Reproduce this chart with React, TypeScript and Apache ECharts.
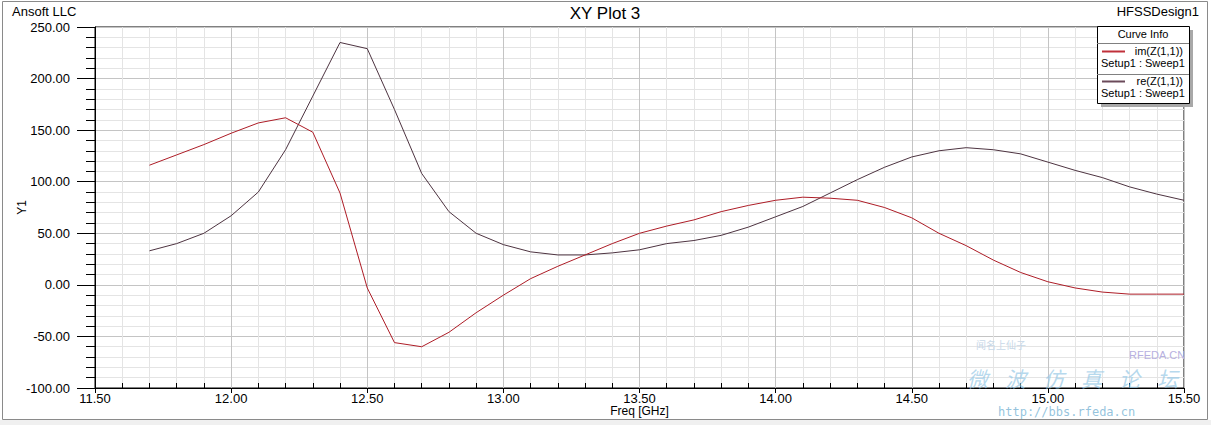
import React, { useEffect, useRef } from "react";
import * as echarts from "echarts";

const freqs = [11.7, 11.8, 11.9, 12.0, 12.1, 12.2, 12.3, 12.4, 12.5, 12.6, 12.7, 12.8, 12.9, 13.0, 13.1, 13.2, 13.3, 13.4, 13.5, 13.6, 13.7, 13.8, 13.9, 14.0, 14.1, 14.2, 14.3, 14.4, 14.5, 14.6, 14.7, 14.8, 14.9, 15.0, 15.1, 15.2, 15.3, 15.4, 15.5];
const imZ = [116, 126, 136, 147, 157, 162, 148, 89, -3, -56, -60, -46, -27, -10, 6, 18, 29, 40, 50, 57, 63, 71, 77, 82, 85, 84, 82, 75, 65, 50, 38, 24, 12, 3, -3, -7, -9, -9, -9];
const reZ = [33, 40, 50, 67, 90, 131, 183, 235, 229, 170, 108, 71, 50, 39, 32, 29, 29, 31, 34, 40, 43, 48, 56, 66, 76, 89, 102, 114, 124, 130, 133, 131, 127, 119, 111, 104, 95, 88, 82];
const seriesNames = ["im(Z(1,1))", "re(Z(1,1))"];
const seriesColors = ["#ad1c26", "#4d3340"];
const sweepLabel = "Setup1 : Sweep1";

const FONT = "Liberation Sans, Arial, sans-serif";

export default function App() {
  const ref = useRef<HTMLDivElement>(null);
  useEffect(() => {
    document.body.style.margin = "0";
    const chart = echarts.init(ref.current!, null, { renderer: "svg" });
    const lx = 1097, ly = 26, lw = 92, lh = 77;
    chart.setOption({
      animation: false,
      backgroundColor: "#ffffff",
      textStyle: { fontFamily: FONT },
      grid: { left: 95, right: 27, top: 27, bottom: 37, show: true, borderColor: "#000", borderWidth: 1, backgroundColor: "#fff", containLabel: false, outerBoundsMode: "none" },
      xAxis: [
        {
          type: "value", min: 11.5, max: 15.5, interval: 0.5,
          name: "Freq [GHz]", nameLocation: "middle", nameGap: 17, nameMoveOverlap: false,
          nameTextStyle: { color: "#000", fontSize: 12, fontFamily: FONT },
          axisLine: { onZero: false, lineStyle: { color: "#000", width: 1 } },
          axisTick: { show: true, length: 5, lineStyle: { color: "#000" } },
          minorTick: { show: false, splitNumber: 5 },
          axisLabel: { color: "#000", fontSize: 13, margin: 4, fontFamily: FONT, formatter: (v: number) => v.toFixed(2) },
          splitLine: { show: true, lineStyle: { color: "#c4c4c4", width: 1 } },
          minorSplitLine: { show: true, lineStyle: { color: "#e4e4e4", width: 1 } },
        },
        {
          type: "value", min: 11.5, max: 15.5, interval: 0.5, position: "bottom", gridIndex: 0,
          axisLine: { show: false, onZero: false },
          axisTick: { show: false, inside: true },
          minorTick: { show: true, splitNumber: 5, length: 5, lineStyle: { color: "#000" } },
          axisLabel: { show: false },
          splitLine: { show: false },
          minorSplitLine: { show: false },
        },
      ],
      yAxis: {
        type: "value", min: -100, max: 250, interval: 50,
        name: "Y1", nameLocation: "middle", nameGap: 67, nameRotate: 90, nameMoveOverlap: false,
        nameTextStyle: { color: "#000", fontSize: 12, fontFamily: FONT },
        axisLine: { show: true, onZero: false, lineStyle: { color: "#000", width: 1 } },
        axisTick: { show: true, length: 18, lineStyle: { color: "#000" } },
        minorTick: { show: true, splitNumber: 5, length: 9, lineStyle: { color: "#000" } },
        axisLabel: { color: "#000", fontSize: 13, margin: 25, fontFamily: FONT, formatter: (v: number) => v.toFixed(2) },
        splitLine: { show: true, lineStyle: { color: "#c4c4c4", width: 1 } },
        minorSplitLine: { show: true, lineStyle: { color: "#e4e4e4", width: 1 } },
      },
      series: [
        {
          name: seriesNames[1], type: "line", xAxisIndex: 0, showSymbol: false, symbol: "none",
          data: freqs.map((f, i) => [f, reZ[i]]),
          lineStyle: { color: seriesColors[1], width: 1 }, itemStyle: { color: seriesColors[1] },
        },
        {
          name: seriesNames[0], type: "line", xAxisIndex: 0, showSymbol: false, symbol: "none",
          data: freqs.map((f, i) => [f, imZ[i]]),
          lineStyle: { color: seriesColors[0], width: 1 }, itemStyle: { color: seriesColors[0] },
        },
      ],
      graphic: [
        // outer frame
        { type: "rect", z: -10, shape: { x: 0, y: 420, width: 1211, height: 5 }, style: { fill: "#f0f0f0" } },
        { type: "rect", z: -10, shape: { x: 2.5, y: 1.5, width: 1205, height: 418 }, style: { fill: "none", stroke: "#8a8a8a", lineWidth: 1 } },
        // header texts
        { type: "text", x: 12, y: 11, style: { text: "Ansoft LLC", font: `13px ${FONT}`, fill: "#000", textVerticalAlign: "middle" } },
        { type: "text", x: 605, y: 13, style: { text: "XY Plot 3", font: `17px ${FONT}`, fill: "#000", textAlign: "center", textVerticalAlign: "middle" } },
        { type: "text", x: 1199, y: 11, style: { text: "HFSSDesign1", font: `13px ${FONT}`, fill: "#000", textAlign: "right", textVerticalAlign: "middle" } },
        // watermark
        { type: "text", x: 1129, y: 355, z: 50, style: { text: "RFEDA.CN", font: `11px ${FONT}`, fill: "#b7b0e0", textVerticalAlign: "middle" } },
        { type: "text", x: 976, y: 344, z: 50, style: { text: "闻名上仙子", font: `10px "Noto Sans CJK SC"`, fill: "#c8d8e8", textVerticalAlign: "middle" } },
        ...["微", "波", "仿", "真", "论", "坛"].map((c, i) => ({
          type: "text", x: 967 + i * 38, y: 378, z: 50,
          style: { text: c, font: `italic 21px "Noto Sans CJK SC"`, fill: "rgba(150,200,230,0.7)", textVerticalAlign: "middle" },
        })),
        { type: "text", x: 998, y: 412, z: 50, style: { text: "http://bbs.rfeda.cn", font: `12px "DejaVu Sans Mono", monospace`, fill: "rgba(130,185,215,0.85)", textVerticalAlign: "middle" } },
        // legend
        { type: "rect", z: 60, shape: { x: lx + 4, y: ly + 4, width: lw, height: lh }, style: { fill: "#a8a8a8" } },
        { type: "rect", z: 61, shape: { x: lx + 0.5, y: ly + 0.5, width: lw, height: lh }, style: { fill: "#fff", stroke: "#000", lineWidth: 1 } },
        { type: "text", z: 62, x: lx + lw / 2, y: ly + 8, style: { text: "Curve Info", font: `11px ${FONT}`, fill: "#000", textAlign: "center", textVerticalAlign: "middle" } },
        { type: "line", z: 62, shape: { x1: lx, y1: ly + 17.5, x2: lx + lw, y2: ly + 17.5 }, style: { stroke: "#808080", lineWidth: 1 } },
        { type: "line", z: 62, shape: { x1: lx + 5, y1: ly + 25.5, x2: lx + 28, y2: ly + 25.5 }, style: { stroke: "#c0303a", lineWidth: 2 } },
        { type: "text", z: 62, x: lx + 86, y: ly + 25, style: { text: seriesNames[0], font: `11px ${FONT}`, fill: "#000", textAlign: "right", textVerticalAlign: "middle" } },
        { type: "text", z: 62, x: lx + 4, y: ly + 37, style: { text: sweepLabel, font: `11px ${FONT}`, fill: "#000", textVerticalAlign: "middle" } },
        { type: "line", z: 62, shape: { x1: lx, y1: ly + 48.5, x2: lx + lw, y2: ly + 48.5 }, style: { stroke: "#808080", lineWidth: 1 } },
        { type: "line", z: 62, shape: { x1: lx + 5, y1: ly + 55.5, x2: lx + 28, y2: ly + 55.5 }, style: { stroke: "#6b4a5a", lineWidth: 2 } },
        { type: "text", z: 62, x: lx + 86, y: ly + 55, style: { text: seriesNames[1], font: `11px ${FONT}`, fill: "#000", textAlign: "right", textVerticalAlign: "middle" } },
        { type: "text", z: 62, x: lx + 4, y: ly + 67, style: { text: sweepLabel, font: `11px ${FONT}`, fill: "#000", textVerticalAlign: "middle" } },
      ],
    });
    return () => chart.dispose();
  }, []);
  return <div ref={ref} style={{ width: 1211, height: 425 }} />;
}
